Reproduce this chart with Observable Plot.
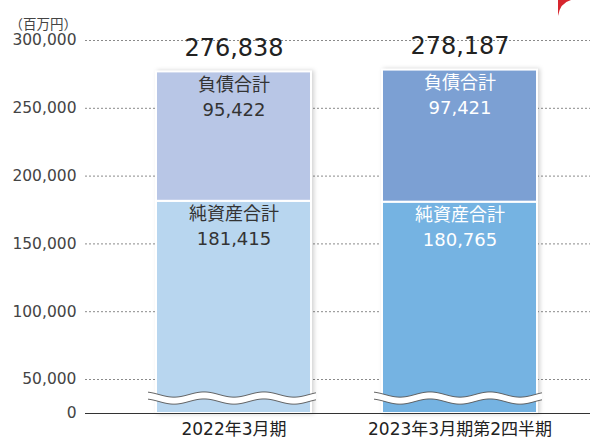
<!DOCTYPE html>
<html><head><meta charset="utf-8">
<script src="https://cdn.jsdelivr.net/npm/d3@7"></script>
<script src="https://cdn.jsdelivr.net/npm/@observablehq/plot@0.6"></script>
<style>
html,body{margin:0;padding:0;background:#fff;}
#chart svg{font-family:"DejaVu Sans","Noto Sans CJK JP",sans-serif;}
#chart g[aria-label="rect"]{filter:drop-shadow(2px 0 2px rgba(0,0,0,0.18));}
</style></head>
<body><div id="chart"></div>
<script>
const categories = ["2022年3月期", "2023年3月期第2四半期"];
const netAssets = [181415, 180765];
const liabilities = [95422, 97421];
const totals = [276838, 278187];
const segmentNames = ["純資産合計", "負債合計"];
const yTicks = [0, 50000, 100000, 150000, 200000, 250000, 300000];
const unitLabel = "（百万円）";
const netColors = ["#b8d6ef", "#75b3e2"];
const liabColors = ["#b8c6e6", "#7ca0d3"];
const textColors = ["#333333", "#ffffff"];

const rows = [];
categories.forEach((c, i) => {
  rows.push({cat: c, seg: segmentNames[0], y1: 0, y2: netAssets[i], v: netAssets[i], fill: netColors[i], tc: textColors[i]});
  rows.push({cat: c, seg: segmentNames[1], y1: netAssets[i], y2: netAssets[i] + liabilities[i], v: liabilities[i], fill: liabColors[i], tc: textColors[i]});
});
const totalRows = categories.map((c, i) => ({cat: c, v: totals[i]}));
const fmt = d3.format(",");
const FONT = '"DejaVu Sans","Noto Sans CJK JP",sans-serif';

const plot = Plot.plot({
  width: 596, height: 440,
  marginLeft: 85, marginRight: 6, marginTop: 40, marginBottom: 27,
  style: {fontFamily: FONT, background: "#fff"},
  x: {type: "band", domain: categories, paddingInner: 0.313, paddingOuter: 0.269, align: 0.574},
  y: {type: "linear", domain: [0, 50000, 300000], range: [413, 379, 40]},
  marks: [
    Plot.gridY(yTicks.filter(d => d > 0), {stroke: "#8a8a8a", strokeOpacity: 1, strokeDasharray: "2,2"}),
    Plot.axisY({ticks: yTicks, tickFormat: fmt, tickSize: 0, tickPadding: 9, fontSize: 15.5, fill: "#444", label: null}),
    Plot.axisX({tickSize: 0, tickPadding: 9, fontSize: 17, fill: "#222", label: null}),
    Plot.rect(rows, {x: "cat", y1: "y1", y2: "y2", fill: d => d.fill, stroke: "#fff", strokeWidth: 2}),
    Plot.ruleY([0], {stroke: "#333", strokeWidth: 1}),
    Plot.text(rows, {x: "cat", y: "y2", text: "seg", dy: 13, fill: d => d.tc, fontSize: 18}),
    Plot.text(rows, {x: "cat", y: "y2", text: d => fmt(d.v), dy: 38, fill: d => d.tc, fontSize: 18}),
    Plot.text(totalRows, {x: "cat", y: "v", text: d => fmt(d.v), dy: -24, fill: "#222", fontSize: 24}),
    Plot.text([unitLabel], {frameAnchor: "top-left", text: d => d, dx: -76, dy: -21, fill: "#444", fontSize: 13.5, textAnchor: "start"})
  ]
});
document.getElementById("chart").appendChild(plot);

// wavy break marks drawn from the plot's own scales
const xs = plot.scale("x"), ys = plot.scale("y");
const svg = d3.select(plot);
const yc = ys.apply(22000);
categories.forEach(c => {
  const left = xs.apply(c), right = left + xs.bandwidth;
  const x0 = left - 8, x1 = right + 5, P = 60, A = 2.6, xt = x0 + 26;
  const pts = d3.range(x0, x1 + 0.5, 1);
  const f = x => A * Math.cos(2 * Math.PI * (x - xt) / P);
  const upper = pts.map(x => [x, yc - 3.5 + f(x)]);
  const lower = pts.map(x => [x, yc + 3.5 + f(x)]);
  const line = d3.line();
  svg.append("path").attr("d", line(upper.concat(lower.slice().reverse())) + "Z").attr("fill", "#fff");
  svg.append("path").attr("d", line(upper)).attr("fill", "none").attr("stroke", "#555").attr("stroke-width", 0.9);
  svg.append("path").attr("d", line(lower)).attr("fill", "none").attr("stroke", "#555").attr("stroke-width", 0.9);
});
// corner decoration
svg.append("path").attr("d", "M558,0 L558,16 Q560,3 571,0 Z").attr("fill", "#d7262e");
</script></body></html>
